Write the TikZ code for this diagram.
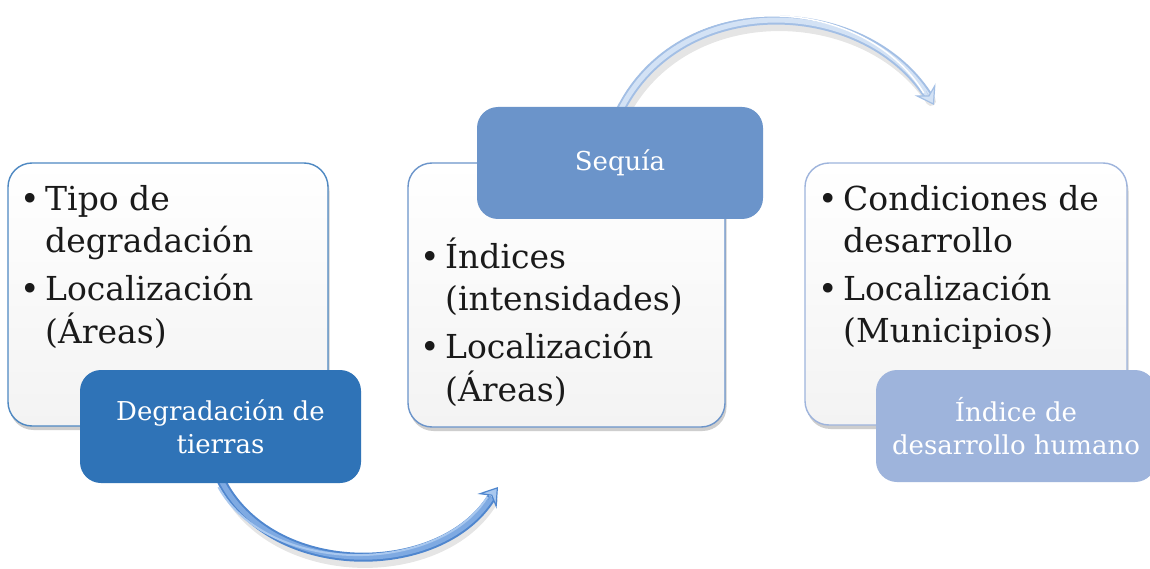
\documentclass[tikz,border=0pt]{standalone}
\usepackage{fontspec}
\setmainfont{DejaVu Serif}
\usetikzlibrary{shadows,arrows.meta,calc}
\pgfdeclarelayer{bg}
\pgfsetlayers{bg,main}

\definecolor{darkb}{HTML}{2F73B7}
\definecolor{midb}{HTML}{6B94CA}
\definecolor{lightb}{HTML}{9EB4DC}
\definecolor{txt}{HTML}{1A1A1A}
\definecolor{panelfill}{HTML}{F3F3F3}
\definecolor{arcAout}{HTML}{4F86CE}
\definecolor{arcAmid}{HTML}{7FAAE2}
\definecolor{arcAin}{HTML}{A9C8EF}
\definecolor{arcBout}{HTML}{A3BFE5}
\definecolor{arcBin}{HTML}{D3E2F5}

\begin{document}
\begin{tikzpicture}[x=1pt,y=-1pt,
  panel/.style={draw, line width=1.4pt, rounded corners=24pt, inner sep=0pt,
    top color=white, bottom color=panelfill,
    drop shadow={shadow xshift=1.5pt, shadow yshift=-4pt, opacity=0.35, fill=black!55}},
  cbox/.style={rounded corners=21pt, inner sep=0pt, align=center, text=white,
    font=\fontsize{26}{33}\selectfont},
  listtext/.style={inner sep=0pt, anchor=north west, text=txt,
    font=\fontsize{33}{42}\selectfont},
  arcshadow/.style={line width=10pt, draw=black, opacity=0.10, line cap=round,
    transform canvas={shift={(3,6)}}},
  arctip/.style={-{Stealth[length=18pt,width=24pt,inset=7pt,line width=1.2pt,fill=#1]}},
]
\begin{pgfonlayer}{bg}
\fill[white] (0,0) rectangle (1150,569);
\end{pgfonlayer}
\useasboundingbox (0,0) rectangle (1150,569);

% panels
\node[panel, draw=darkb!85, minimum width=320pt, minimum height=263pt] (p1) at (168,294.5) {};
\node[panel, draw=midb, minimum width=317pt, minimum height=264pt] (p2) at (566.5,295) {};
\node[panel, draw=lightb, minimum width=322pt, minimum height=262pt] (p3) at (966,294) {};

% panel texts
\node[listtext] (l1) at (20,180.6) {\begin{tabular}{@{}l@{}l@{}}
\makebox[25pt][l]{•} & Tipo de\\ & degradación\\[6pt]
\makebox[25pt][l]{•} & Localización\\ & (Áreas)\end{tabular}};
\node[listtext] (l2) at (420,237.6) {\begin{tabular}{@{}l@{}l@{}}
\makebox[25pt][l]{•} & Índices\\ & (intensidades)\\[6pt]
\makebox[25pt][l]{•} & Localización\\ & (Áreas)\end{tabular}};
\node[listtext] (l3) at (818,180.6) {\begin{tabular}{@{}l@{}l@{}}
\makebox[25pt][l]{•} & Condiciones de\\ & desarrollo\\[6pt]
\makebox[25pt][l]{•} & Localización\\ & (Municipios)\end{tabular}};

% coloured boxes
\node[cbox, fill=darkb, minimum width=281pt, minimum height=113pt] (deg) at (220.5,426.5) {Degradación de\\tierras};
\node[cbox, fill=midb, minimum width=286pt, minimum height=112pt] (seq) at (620,163) {Sequía};
\node[cbox, fill=lightb, minimum width=280pt, minimum height=112pt] (hdi) at (1016,426) {Índice de\\desarrollo humano};

\coordinate (e1) at (498,487);
\coordinate (e2) at (934,105);

% arcs
\begin{pgfonlayer}{bg}
\draw[arcshadow] ([yshift=4pt]deg.south) .. controls (270,580) and (440,580) .. ([shift={(-8,8)}]e1);
\draw[line width=9pt, draw=arcAout, shorten >=12pt]
  ([yshift=4pt]deg.south) .. controls (270,580) and (440,580) .. (e1);
\draw[line width=5pt, draw=arcAmid, shorten >=12pt]
  ([yshift=4pt]deg.south) .. controls (270,580) and (440,580) .. (e1);
\draw[line width=2pt, draw=arcAin, shorten >=14pt]
  ([shift={(-2,4)}]deg.south) .. controls (268,576) and (438,576) .. ([shift={(-3,-2)}]e1);
\draw[draw=arcAout, arctip=arcAin, line width=0.1pt]
  ([shift={(-10,13)}]e1) -- (e1);

\draw[arcshadow] ([yshift=-4pt]seq.north) .. controls (680,-10) and (862,-5) .. ([shift={(-6,-10)}]e2);
\draw[line width=9pt, draw=arcBout, shorten >=12pt]
  ([yshift=-4pt]seq.north) .. controls (680,-10) and (862,-5) .. (e2);
\draw[line width=5pt, draw=arcBin, shorten >=12pt]
  ([yshift=-4pt]seq.north) .. controls (680,-10) and (862,-5) .. (e2);
\draw[line width=1.5pt, draw=white, shorten >=14pt]
  ([shift={(-2,-4)}]seq.north) .. controls (678,-14) and (862,-9) .. ([shift={(-3,0)}]e2);
\draw[draw=arcBout, arctip=arcBin, line width=0.1pt]
  ([shift={(-8,-14)}]e2) -- (e2);
\end{pgfonlayer}
\end{tikzpicture}
\end{document}
